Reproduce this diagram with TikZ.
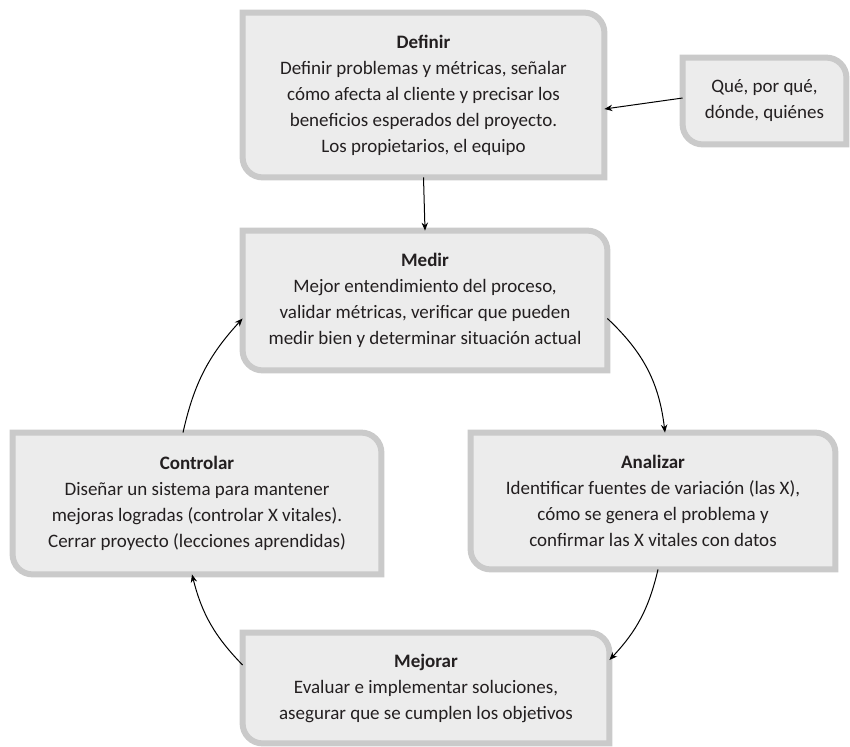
\documentclass[tikz,border=0pt]{standalone}
\usepackage{fontspec}
\setmainfont{Carlito}
\usepackage{tikz}
\usetikzlibrary{positioning, arrows.meta, backgrounds}
\definecolor{boxfill}{RGB}{236,236,236}
\definecolor{boxedge}{RGB}{202,202,202}
\definecolor{inktext}{RGB}{35,31,32}

\begin{document}
\begin{tikzpicture}[x=0.5pt, y=-0.5pt,
    stage/.style={inner sep=0pt, align=center, text=inktext,
        font=\fontsize{9.5}{13}\selectfont},
    boxline/.style={draw=boxedge, fill=boxfill, line width=3pt},
    flow/.style={-{Stealth[length=4pt, width=3.2pt]}, line width=0.5pt, black}]

    \useasboundingbox (0,0) rectangle (850,746);

    % === ETAPAS ===
    \node[stage, minimum width=180.5pt, minimum height=82pt] (def) at (423.5,95) {
        \textbf{Definir}\\
        Definir problemas y métricas, señalar\\
        cómo afecta al cliente y precisar los\\
        beneficios esperados del proyecto.\\
        Los propietarios, el equipo};
    \node[stage, minimum width=81.5pt, minimum height=43pt] (que) at (764.5,101) {
        Qué, por qué,\\
        dónde, quiénes};
    \node[stage, minimum width=182pt, minimum height=69.5pt] (med) at (425,300.5) {
        \textbf{Medir}\\
        Mejor entendimiento del proceso,\\
        validar métricas, verificar que pueden\\
        medir bien y determinar situación actual};
    \node[stage, minimum width=182pt, minimum height=68pt] (ana) at (653,501) {
        \textbf{Analizar}\\
        Identificar fuentes de variación (las X),\\
        cómo se genera el problema y\\
        confirmar las X vitales con datos};
    \node[stage, minimum width=183pt, minimum height=55pt] (mej) at (426,688) {
        \textbf{Mejorar}\\
        Evaluar e implementar soluciones,\\
        asegurar que se cumplen los objetivos};
    \node[stage, minimum width=184pt, minimum height=70.5pt] (con) at (197,503.5) {
        \textbf{Controlar}\\
        Diseñar un sistema para mantener\\
        mejoras logradas (controlar X vitales).\\
        Cerrar proyecto (lecciones aprendidas)};

    % Cajas con dos esquinas redondeadas
    \begin{scope}[on background layer]
        \foreach \n in {def, que, med, ana, mej, con}
            \draw[boxline] (\n.north west) -- ([xshift=-10pt]\n.north east)
                arc[start angle=90, end angle=0, radius=10pt] -- (\n.south east)
                -- ([xshift=10pt]\n.south west)
                arc[start angle=270, end angle=180, radius=10pt] -- cycle;
    \end{scope}

    % === FLECHAS ===
    \draw[flow] (def.south) -- (med.north);
    \draw[flow] ([yshift=1.5pt]que.west) -- ([yshift=-7pt]def.east);
    \draw[flow] ([yshift=-9pt]med.east) to[bend left=20] ([xshift=6pt]ana.north);
    \draw[flow] ([xshift=2.5pt]ana.south) to[bend left=15] ([yshift=14pt]mej.east);
    \draw[flow] ([yshift=11.5pt]mej.west) to[bend left=15] ([xshift=-2.5pt]con.south);
    \draw[flow] ([xshift=-7pt]con.north) to[bend left=15] ([yshift=-9pt]med.west);

\end{tikzpicture}
\end{document}
